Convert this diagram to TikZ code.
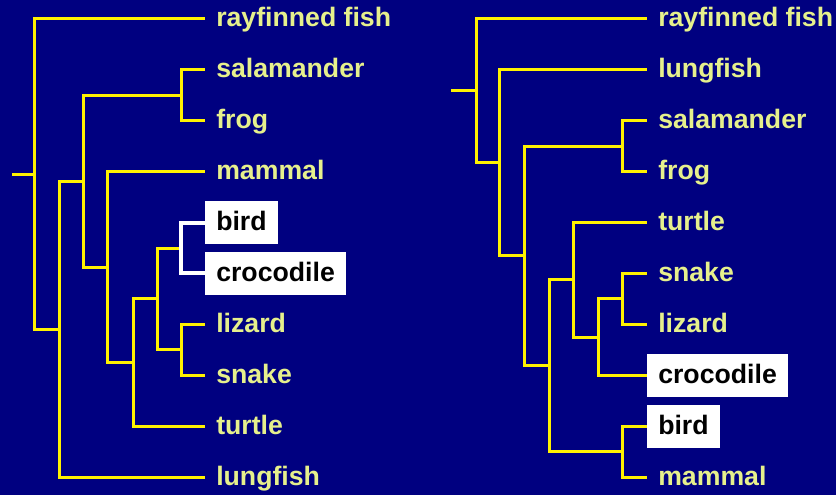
\documentclass[tikz,border=0pt]{standalone}
\usepackage{fontspec}
\setmainfont{Liberation Sans}
\usetikzlibrary{positioning}
\definecolor{navybg}{RGB}{0,0,128}
\definecolor{paleyellow}{RGB}{230,240,140}

\begin{document}
\begin{tikzpicture}[
        x=0.75pt, y=-0.75pt,
        taxon/.style={anchor=west, text=paleyellow, font=\fontsize{20}{24}\selectfont\bfseries, inner xsep=8.25pt, inner ysep=0pt, text height=15pt, text depth=3pt},
        taxonbox/.style={taxon, fill=white, text=black, minimum height=32.25pt},
        branch/.style={draw=yellow, line width=2.25pt},
        hibranch/.style={draw=white, line width=3pt}
    ]
    \useasboundingbox (0,0) rectangle (836,495);
    \fill[navybg] (0,0) rectangle (836,495);

    % Left tree
    \node[taxon] (lray) at (205,19) {rayfinned fish};
    \node[taxon] (lsal) at (205,69.9) {salamander};
    \node[taxon] (lfrog) at (205,120.8) {frog};
    \node[taxon] (lmam) at (205,171.7) {mammal};
    \node[taxonbox] (lbird) at (205,222.6) {bird};
    \node[taxonbox] (lcroc) at (205,273.5) {crocodile};
    \node[taxon] (lliz) at (205,324.4) {lizard};
    \node[taxon] (lsnake) at (205,375.3) {snake};
    \node[taxon] (lturt) at (205,426.2) {turtle};
    \node[taxon] (llung) at (205,477.1) {lungfish};

    \coordinate (lstub) at (12,174.1);
    \coordinate (lroot) at (34,174.1);
    \coordinate (lsar) at (59,329.2);
    \coordinate (ltet) at (83,181.25);
    \coordinate (lamn) at (107,267.15);
    \coordinate (lsq) at (133,362.6);
    \coordinate (lrep) at (157,298.95);
    \coordinate (lsf) at (181,95.35);
    \coordinate (lbc) at (181,248.05);
    \coordinate (lls) at (181,349.85);

    \draw[branch] (lstub) -- (lroot);
    \draw[branch] (lroot) |- (lray.west);
    \draw[branch] (lroot) |- (lsar);
    \draw[branch] (lsar) |- (ltet);
    \draw[branch] (lsar) |- (llung.west);
    \draw[branch] (ltet) |- (lsf);
    \draw[branch] (ltet) |- (lamn);
    \draw[branch] (lsf) |- (lsal.west);
    \draw[branch] (lsf) |- (lfrog.west);
    \draw[branch] (lamn) |- (lmam.west);
    \draw[branch] (lamn) |- (lsq);
    \draw[branch] (lsq) |- (lrep);
    \draw[branch] (lsq) |- (lturt.west);
    \draw[branch] (lrep) |- (lbc);
    \draw[branch] (lrep) |- (lls);
    \draw[hibranch] (lbc) |- (lbird.west);
    \draw[hibranch] (lbc) |- (lcroc.west);
    \draw[branch] (lls) |- (lliz.west);
    \draw[branch] (lls) |- (lsnake.west);

    % Right tree
    \node[taxon] (rray) at (647,19) {rayfinned fish};
    \node[taxon] (rlung) at (647,69.9) {lungfish};
    \node[taxon] (rsal) at (647,120.8) {salamander};
    \node[taxon] (rfrog) at (647,171.7) {frog};
    \node[taxon] (rturt) at (647,222.6) {turtle};
    \node[taxon] (rsnake) at (647,273.5) {snake};
    \node[taxon] (rliz) at (647,324.4) {lizard};
    \node[taxonbox] (rcroc) at (647,375.3) {crocodile};
    \node[taxonbox] (rbird) at (647,426.2) {bird};
    \node[taxon] (rmam) at (647,477.1) {mammal};

    \coordinate (rstub) at (451,91);
    \coordinate (rroot) at (476,91);
    \coordinate (rsar) at (499,162.95);
    \coordinate (rtet) at (524,256);
    \coordinate (ramn) at (549,365.75);
    \coordinate (rrep) at (573,279.85);
    \coordinate (rslc) at (598,337.1);
    \coordinate (rsf) at (622,146.25);
    \coordinate (rsl) at (622,298.95);
    \coordinate (rbm) at (622,451.65);

    \draw[branch] (rstub) -- (rroot);
    \draw[branch] (rroot) |- (rray.west);
    \draw[branch] (rroot) |- (rsar);
    \draw[branch] (rsar) |- (rlung.west);
    \draw[branch] (rsar) |- (rtet);
    \draw[branch] (rtet) |- (rsf);
    \draw[branch] (rtet) |- (ramn);
    \draw[branch] (rsf) |- (rsal.west);
    \draw[branch] (rsf) |- (rfrog.west);
    \draw[branch] (ramn) |- (rrep);
    \draw[branch] (ramn) |- (rbm);
    \draw[branch] (rrep) |- (rturt.west);
    \draw[branch] (rrep) |- (rslc);
    \draw[branch] (rslc) |- (rsl);
    \draw[branch] (rslc) |- (rcroc.west);
    \draw[branch] (rsl) |- (rsnake.west);
    \draw[branch] (rsl) |- (rliz.west);
    \draw[branch] (rbm) |- (rbird.west);
    \draw[branch] (rbm) |- (rmam.west);
\end{tikzpicture}
\end{document}
